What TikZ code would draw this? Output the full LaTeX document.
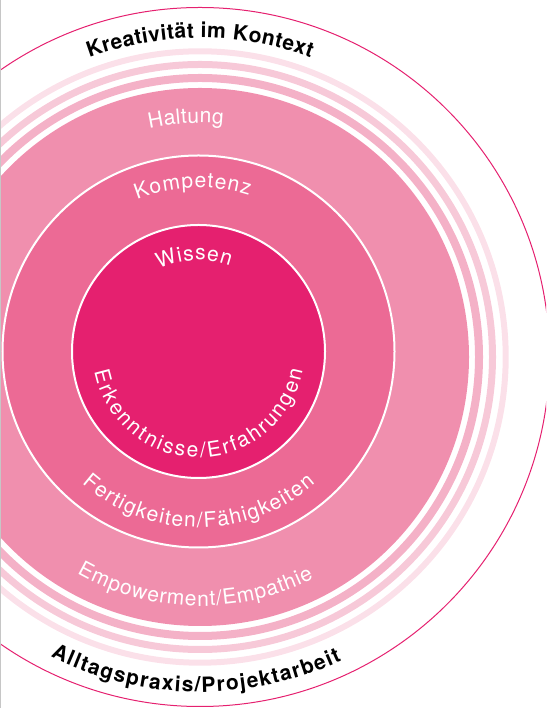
\documentclass[tikz,border=0pt]{standalone}
\usepackage{fontspec}
\setmainfont{TeX Gyre Heros}
\usepackage{tikz}
\usetikzlibrary{decorations.text}

\definecolor{Magenta}{HTML}{E5206F}
\definecolor{PinkA}{HTML}{EC6A95}
\definecolor{PinkB}{HTML}{F08FAE}
\definecolor{PinkC}{HTML}{F4B1C7}
\definecolor{PinkD}{HTML}{F7C9D8}
\definecolor{PinkE}{HTML}{FBE0E9}

\begin{document}
\begin{tikzpicture}[x=1pt,y=1pt]
			\tikzstyle{Band}	= [line width=7pt]
			\tikzstyle{Disc}	= [draw=white, line width=2pt]
			\tikzstyle{Bold}	= [decorate, decoration={text along path, text align={fit to path}, text color=black}]
			\tikzstyle{Light}	= [decorate, decoration={text along path, text align={fit to path}, text color=white}]

			\useasboundingbox (0,0) rectangle (546,708);
			\clip (0,0) rectangle (546,708);

			\coordinate (O) at (200,351);
			\coordinate (I) at (198.5,356.5);

			\draw [Band, PinkE, line width=6pt] (O) circle [radius=305.7];
			\draw [Band, PinkD] (O) circle [radius=292.5];
			\draw [Band, PinkC, line width=8pt] (O) circle [radius=279];
			\fill [PinkB] (O) circle [radius=269];
			\filldraw [Disc, fill=PinkA] (I) circle [radius=196];
			\filldraw [Disc, fill=Magenta] (I) circle [radius=126.5];
			\draw [Magenta, line width=1pt] (O) circle [radius=349.5];

			\path [Bold, decoration={text={|\fontsize{21}{24}\selectfont\bfseries|Kreativität im Kontext}}]
				(O) ++(110.3:319) arc [start angle=110.3, end angle=69.7, radius=319];
			\path [Bold, decoration={text={|\fontsize{21}{24}\selectfont\bfseries|Alltagspraxis/Projektarbeit}}]
				(O) ++(243.5:335) arc [start angle=243.5, end angle=295, radius=335];
			\path [Light, decoration={text={|\fontsize{21}{24}\selectfont|Haltung}}]
				(O) ++(102.5:234) arc [start angle=102.5, end angle=84.3, radius=234];
			\path [Light, decoration={text={|\fontsize{21}{24}\selectfont|Empowerment/Empathie}}]
				(O) ++(240.4:249) arc [start angle=240.4, end angle=297.2, radius=249];
			\path [Light, decoration={text={|\fontsize{21}{24}\selectfont|Kompetenz}}]
				(I) ++(112:164) arc [start angle=112, end angle=72, radius=164];
			\path [Light, decoration={text={|\fontsize{21}{24}\selectfont|Fertigkeiten/Fähigkeiten}}]
				(I) ++(228.5:176) arc [start angle=228.5, end angle=311.5, radius=176];
			\path [Light, decoration={text={|\fontsize{21}{24}\selectfont|Wissen}}]
				(I) ++(115.6:91.5) arc [start angle=115.6, end angle=69.9, radius=91.5];
			\path [Light, decoration={text={|\fontsize{21}{24}\selectfont|Erkenntnisse/Erfahrungen}}]
				(I) ++(191:106) arc [start angle=191, end angle=349.7, radius=106];

			%\draw [gray] (0,0) -- (0,708);
			\draw [gray!45, line width=1.5pt] (0.5,0) -- (0.5,708);
		\end{tikzpicture}
\end{document}
